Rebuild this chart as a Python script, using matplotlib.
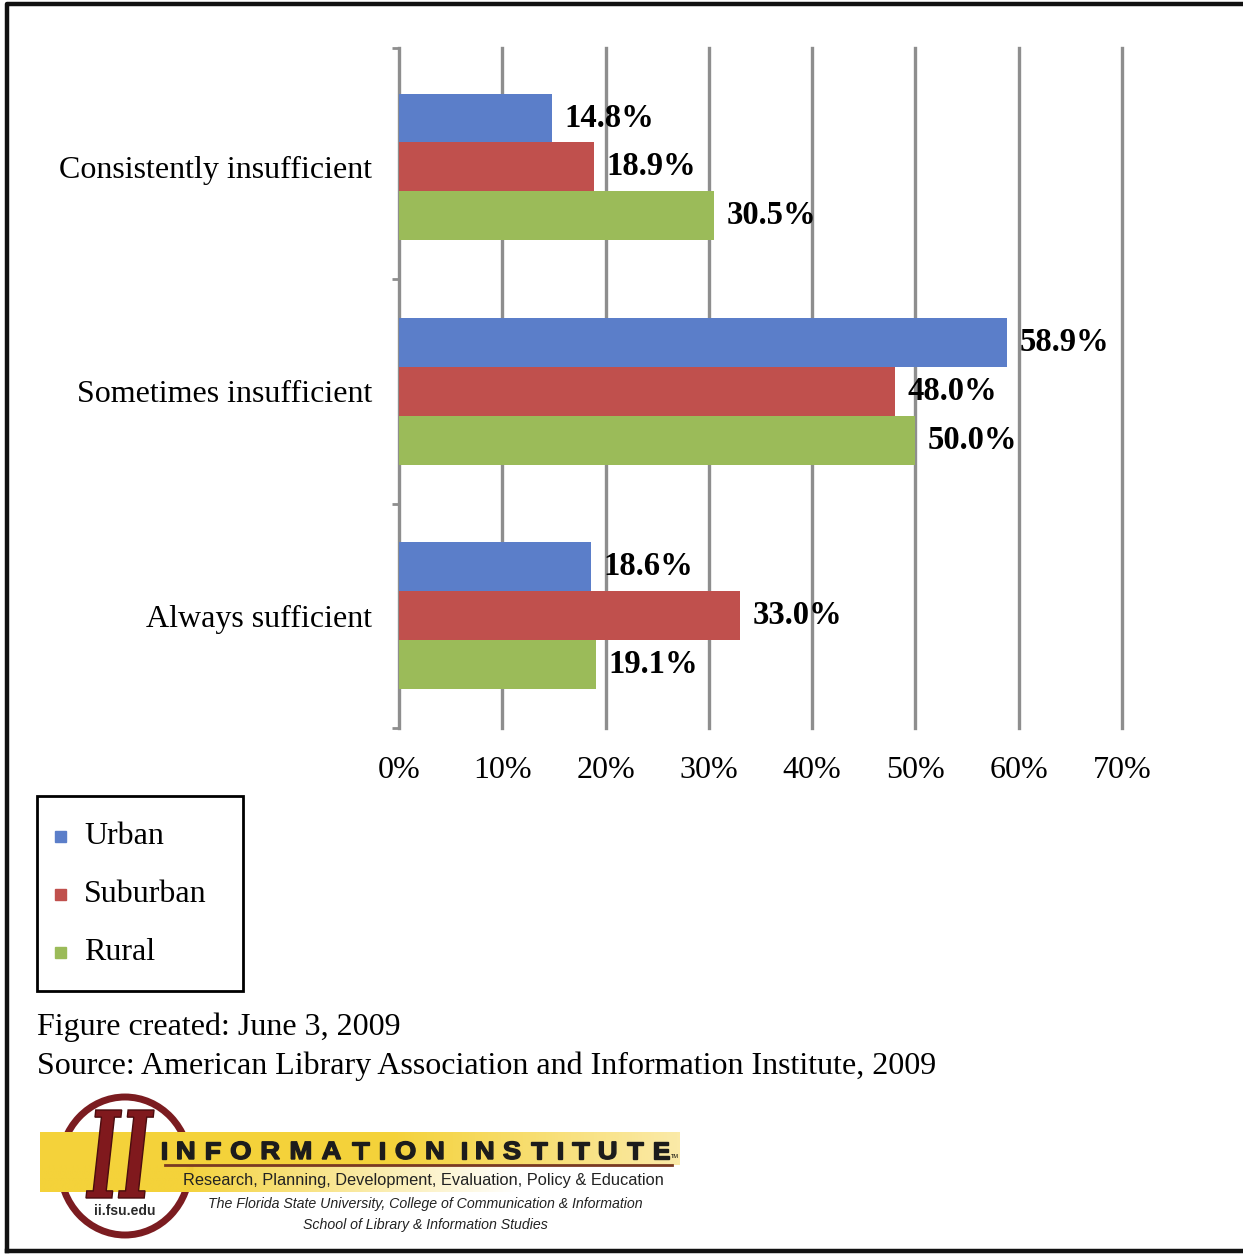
import numpy as np
import matplotlib
matplotlib.use("Agg")
import matplotlib.pyplot as plt
from matplotlib.patches import Rectangle, Ellipse, PathPatch
from matplotlib.textpath import TextPath
from matplotlib.font_manager import FontProperties
from matplotlib.transforms import Affine2D
from matplotlib.colors import to_rgb

categories = ["Always sufficient", "Sometimes insufficient", "Consistently insufficient"]
series = ["Urban", "Suburban", "Rural"]
urban = [18.6, 58.9, 14.8]
suburban = [33.0, 48.0, 18.9]
rural = [19.1, 50.0, 30.5]
xticks = [0, 10, 20, 30, 40, 50, 60, 70]
colors = ["#5b7ec9", "#c0504d", "#9bbb59"]

serif = ["Liberation Serif", "DejaVu Serif"]
sans = ["Liberation Sans", "DejaVu Sans"]
maroon = "#7b1c20"

W, H = 1243, 1255
fig = plt.figure(figsize=(W / 100, H / 100), dpi=100)
fig.patch.set_facecolor("white")

# main bar chart
ax = fig.add_axes([399 / W, 1 - 728 / H, (1122 - 399) / W, (728 - 48) / H])
ax.set_xlim(0, 70)
ax.set_ylim(0, 3.03)
ypos = np.arange(len(categories)) + 0.5
bh = 0.218
for vals, col, off in zip([urban, suburban, rural], colors, [bh, 0, -bh]):
    bars = ax.barh(ypos + off, vals, height=bh, color=col, zorder=3)
    for b, v in zip(bars, vals):
        ax.text(v + 1.2, b.get_y() + bh / 2, f"{v:.1f}%", va="center", ha="left",
                fontsize=23.5, fontweight="bold", family=serif, zorder=4)

for x in xticks[1:]:
    ax.axvline(x, color="#8e8e8e", lw=2.4, zorder=1, clip_on=False)
for s in ["top", "right", "bottom"]:
    ax.spines[s].set_visible(False)
ax.spines["left"].set_color("#8e8e8e")
ax.spines["left"].set_linewidth(2.4)

ax.set_xticks(xticks)
ax.set_xticklabels([f"{t}%" for t in xticks], family=serif, fontsize=23)
ax.tick_params(axis="x", length=0, pad=20)
ax.set_yticks([0, 1, 2, 3.03], minor=True)
ax.set_yticks(ypos)
ax.set_yticklabels(categories, family=serif, fontsize=23)
ax.tick_params(axis="y", which="major", length=0, pad=19)
ax.tick_params(axis="y", which="minor", length=5, width=2, color="#8e8e8e")

# overlay in pixel coordinates for legend, notes and logo
lg = fig.add_axes([0, 0, 1, 1], zorder=5)
lg.patch.set_alpha(0)

# legend box
lg.add_patch(Rectangle((37, 796), 206, 195, fill=False, edgecolor="black", lw=2))
for i, (name, col) in enumerate(zip(series, colors)):
    yy = 836 + i * 58
    lg.add_patch(Rectangle((55, yy - 5), 11, 11, color=col))
    lg.text(84, yy, name, family=serif, fontsize=23, va="center", ha="left")

lg.text(37, 1027, "Figure created: June 3, 2009", family=serif, fontsize=23, va="center")
lg.text(37, 1066, "Source: American Library Association and Information Institute, 2009",
        family=serif, fontsize=23, va="center")

# logo
lg.add_patch(Ellipse((125, 1166), 130, 138, fill=False, edgecolor=maroon, lw=5, zorder=1))

yellow = np.array(to_rgb("#f4d23a"))
pale = np.array(to_rgb("#fbeaa8"))
t = np.clip((np.linspace(0, 1, 200) - 0.55) / 0.45, 0, 1)[None, :, None]
top_band = yellow * (1 - t) + pale * t
lg.imshow(top_band, extent=(40, 680, 1165, 1132), aspect="auto", zorder=2)
a = np.clip(1 - (np.linspace(0, 1, 200) - 0.3) / 0.7, 0, 1)
low_band = np.dstack([np.tile(yellow, (1, 200, 1)), a[None, :, None]])
lg.imshow(low_band, extent=(40, 520, 1192, 1165), aspect="auto", zorder=2)

big = FontProperties(family=["DejaVu Serif"], weight="bold", style="italic")
tp = TextPath((0, 0), "II", size=1, prop=big)
e = tp.get_extents()
tr = Affine2D().translate(-e.x0, -e.y0).scale(68 / e.width, -88 / e.height).translate(86, 1198)
lg.add_patch(PathPatch(tr.transform_path(tp), facecolor="#80191d", edgecolor="#4a0c0e",
                       lw=1, zorder=3))
lg.text(125, 1211, "ii.fsu.edu", fontsize=10, fontweight="bold", family=sans,
        color="#2a2a2a", ha="center", va="center", zorder=3)

# wide, heavy title letters with equal ink gaps
head = FontProperties(family=sans, weight="bold")
size = 25
stretch = 1.1
for word, x0, x1 in [("INFORMATION", 162, 443), ("INSTITUTE", 462, 669)]:
    exts = [TextPath((0, 0), ch, size=1, prop=head).get_extents() for ch in word]
    ink = sum(ex.width for ex in exts) * size * stretch
    gap = (x1 - x0 - ink) / (len(word) - 1)
    cur = x0
    for ch, ex in zip(word, exts):
        tp = TextPath((0, 0), ch, size=1, prop=head)
        tr = Affine2D().translate(-ex.x0, 0).scale(size * stretch, -size).translate(cur, 1159)
        lg.add_patch(PathPatch(tr.transform_path(tp), facecolor="#1c1c1c",
                               edgecolor="#1c1c1c", lw=1.0, zorder=3))
        cur += ex.width * size * stretch + gap
lg.text(671, 1157, "TM", fontsize=4, family=sans, ha="left", va="center", zorder=3)
lg.plot([165, 672], [1165, 1165], color="#7a3a22", lw=2, zorder=3)
lg.text(183, 1181, "Research, Planning, Development, Evaluation, Policy & Education",
        fontsize=11.8, family=sans, color="#222222", ha="left", va="center", zorder=3)
lg.text(425, 1204, "The Florida State University, College of Communication & Information",
        fontsize=10.2, style="italic", family=sans, color="#222222",
        ha="center", va="center", zorder=3)
lg.text(425, 1225, "School of Library & Information Studies",
        fontsize=10.2, style="italic", family=sans, color="#222222",
        ha="center", va="center", zorder=3)

# outer frame
lg.plot([7, 7, W], [1251, 4, 4], color="#111111", lw=3.2, clip_on=False)
lg.plot([7, W], [1251, 1251], color="#111111", lw=3.2, clip_on=False)

lg.set_xlim(0, W)
lg.set_ylim(H, 0)
lg.axis("off")

fig.savefig("out.png", dpi=100, facecolor="white")
